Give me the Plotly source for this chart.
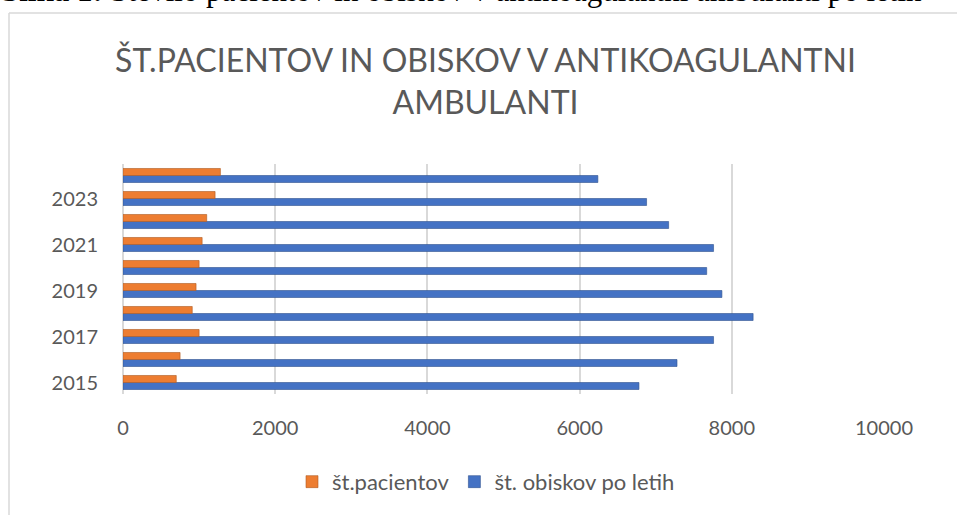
import plotly.graph_objects as go

years = [2015, 2016, 2017, 2018, 2019, 2020, 2021, 2022, 2023, 2024]
obiski = [6780, 7280, 7760, 8280, 7870, 7670, 7760, 7170, 6880, 6240]
pacienti = [700, 750, 1000, 910, 960, 1000, 1040, 1100, 1210, 1280]

W, H = 957, 515
ml, mr, mt, mb = 123, 73, 164, 118
pw, ph = W - ml - mr, H - mt - mb


def px_x(p):
    return (p - ml) / pw


def px_y(p):
    return (H - mb - p) / ph


FONT = "Lato, sans-serif"
grey = "#595959"

fig = go.Figure()
fig.add_trace(go.Bar(y=years, x=obiski, orientation="h", name="št. obiskov po letih",
                     marker=dict(color="#4472C4", line=dict(color="#2F528F", width=0.6))))
fig.add_trace(go.Bar(y=years, x=pacienti, orientation="h", name="št.pacientov",
                     marker=dict(color="#ED7D31", line=dict(color="#AE5A21", width=0.6))))

fig.update_layout(
    width=W, height=H,
    margin=dict(l=ml, r=mr, t=mt, b=mb),
    paper_bgcolor="white", plot_bgcolor="white",
    barmode="group", bargap=0.39, bargroupgap=0,
    font=dict(family=FONT, color=grey),
    title=dict(text="ŠT.PACIENTOV IN OBISKOV V ANTIKOAGULANTNI<br>AMBULANTI",
               x=485.5 / W, xanchor="center",
               y=1 - 72 / H, yanchor="middle",
               font=dict(size=32, color=grey, family=FONT)),
    xaxis=dict(range=[0, 10000], dtick=2000, tick0=0, tickformat="d", showgrid=True,
               gridcolor="#D9D9D9", gridwidth=1.5, zeroline=True, zerolinecolor="#D9D9D9",
               zerolinewidth=1.5, showline=False, ticks="", ticklabelstandoff=20,
               tickfont=dict(size=20, color=grey, family=FONT)),
    yaxis=dict(range=[2014.5, 2024.5], tick0=2015, dtick=2, tickformat="d", showgrid=False,
               zeroline=False, showline=False, ticks="", ticklabelstandoff=24,
               tickfont=dict(size=20, color=grey, family=FONT)),
    legend=dict(orientation="h", x=px_x(486), xanchor="center", y=px_y(486),
                yanchor="middle", traceorder="reversed",
                font=dict(size=22, color=grey, family=FONT), itemwidth=30),
    showlegend=True,
)

# chart-area border (left and top edges visible)
fig.add_shape(type="line", xref="paper", yref="paper",
              x0=px_x(9), x1=px_x(W + 20), y0=px_y(11), y1=px_y(11),
              line=dict(color="#D9D9D9", width=1.5))
fig.add_shape(type="line", xref="paper", yref="paper",
              x0=px_x(9), x1=px_x(9), y0=px_y(11), y1=px_y(H + 20),
              line=dict(color="#D9D9D9", width=1.5))

# caption above the chart (cut off by the page edge)
fig.add_annotation(text="<b>Slika 1:</b> Število pacientov in obiskov v antikoagulantni ambulanti po letih",
                   xref="paper", yref="paper", x=px_x(0), xanchor="left",
                   y=px_y(-12), yanchor="middle", showarrow=False,
                   font=dict(family="Liberation Serif, Times New Roman, serif", size=31, color="black"))

fig.write_html("out.html", config={"displayModeBar": False},
               post_script="document.body.style.margin='0';")
